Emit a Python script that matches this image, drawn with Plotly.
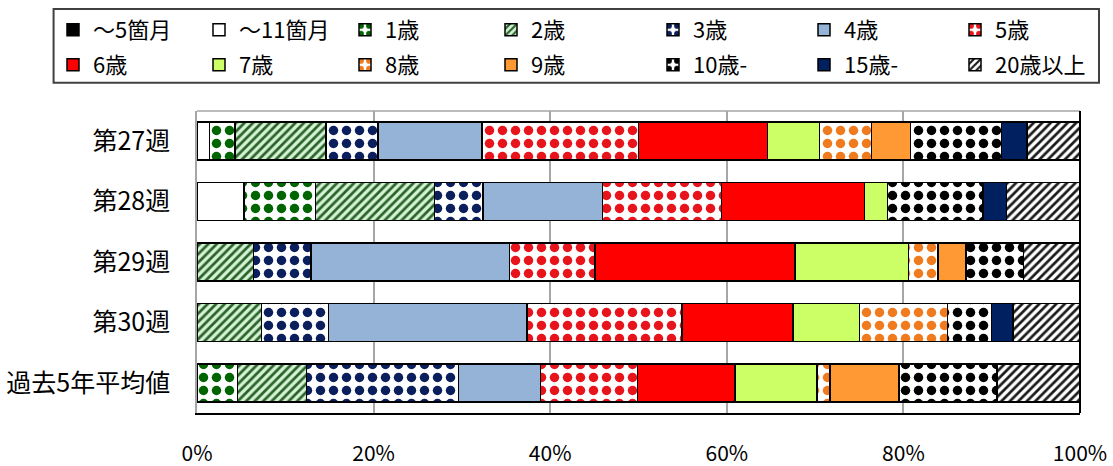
import plotly.graph_objects as go

categories = ["第27週", "第28週", "第29週", "第30週", "過去5年平均値"]
age_groups = ["～5箇月", "～11箇月", "1歳", "2歳", "3歳", "4歳", "5歳",
              "6歳", "7歳", "8歳", "9歳", "10歳-", "15歳-", "20歳以上"]

m5 = [0, 0, 0, 0, 0]
m11 = [1.4, 5.3, 0, 0, 0]
a1 = [2.9, 8.1, 0, 0, 4.6]
a2 = [10.3, 13.5, 6.4, 7.3, 7.8]
a3 = [5.9, 5.5, 6.5, 7.6, 17.2]
a4 = [11.8, 13.5, 22.5, 22.5, 9.3]
a5 = [17.7, 13.5, 9.7, 17.5, 11.0]
a6 = [14.6, 16.2, 22.6, 12.6, 11.0]
a7 = [5.9, 2.6, 12.9, 7.5, 9.3]
a8 = [5.9, 0, 3.3, 10.0, 1.5]
a9 = [4.4, 0, 3.2, 0, 7.8]
a10 = [10.3, 10.8, 6.5, 5.0, 11.1]
a15 = [2.9, 2.7, 0, 2.4, 0]
a20 = [6.0, 8.3, 6.4, 7.6, 9.4]

series = [m5, m11, a1, a2, a3, a4, a5, a6, a7, a8, a9, a10, a15, a20]

# style: (bg colour, pattern shape, fg colour)
styles = [
    ("#000000", "", None),
    ("#ffffff", "", None),
    ("#ffffff", ".", "#006400"),
    ("#d4f2d4", "/", "#2a612a"),
    ("#ffffff", ".", "#0a1f5c"),
    ("#95b3d7", "", None),
    ("#ffffff", ".", "#e8141c"),
    ("#ff0000", "", None),
    ("#ccff66", "", None),
    ("#ffffff", ".", "#f07a1e"),
    ("#ff9933", "", None),
    ("#ffffff", ".", "#000000"),
    ("#002060", "", None),
    ("#ffffff", "/", "#1a1a1a"),
]

# which legend block each entry belongs to (2 rows x left/right blocks)
legend_ids = ["legend", "legend", "legend", "legend", "legend2", "legend2", "legend2",
              "legend3", "legend3", "legend3", "legend3", "legend4", "legend4", "legend4"]

FONT = "Noto Sans CJK JP"
W, H = 1113, 466
ML, MR, MT, MB = 196.5, 33, 110.7, 53
PW = W - ML - MR
PH = H - MT - MB


def px2paper_x(px):
    return (px - ML) / PW


def px2paper_y(py):
    return (H - MB - py) / PH


fig = go.Figure()
for name, vals, st, lg in zip(age_groups, series, styles, legend_ids):
    bg, shape, fg = st
    marker = dict(color=bg, line=dict(color="#000000", width=1.5))
    if shape:
        size = 13 if shape == "." else 6
        solidity = 0.42 if shape == "." else 0.45
        marker["pattern"] = dict(shape=shape, fgcolor=fg, bgcolor=bg,
                                 size=size, solidity=solidity,
                                 fillmode="replace", fgopacity=1)
    fig.add_trace(go.Bar(
        y=categories, x=vals, name=name, orientation="h", marker=marker,
        legend=lg,
    ))


def legend_block(xpx, ypx, entryw):
    return dict(
        orientation="h", xref="container", yref="container",
        xanchor="left", yanchor="top", entrywidth=entryw, entrywidthmode="pixels",
        font=dict(family=FONT, size=22, color="#000000"),
        bgcolor="rgba(0,0,0,0)", borderwidth=0, traceorder="normal",
        x=xpx / W, y=1 - ypx / H,
    )


fig.update_layout(
    width=W, height=H,
    margin=dict(l=ML, r=MR, t=MT, b=MB, pad=0, autoexpand=False),
    barmode="stack", bargap=0.37,
    paper_bgcolor="#ffffff", plot_bgcolor="#ffffff",
    font=dict(family=FONT, color="#000000"),
    legend=legend_block(53, 9, 101),
    legend2=legend_block(653, 9, 106),
    legend3=legend_block(53, 44, 101),
    legend4=legend_block(653, 44, 106),
    xaxis=dict(
        range=[0, 100], dtick=20, tick0=0, ticksuffix="%",
        showgrid=True, gridcolor="#a6a6a6", gridwidth=1.5,
        zeroline=False, showline=True, linecolor="#000000", linewidth=2,
        ticks="", ticklabelstandoff=21,
        tickfont=dict(family=FONT, size=21, color="#000000"),
        fixedrange=True,
    ),
    yaxis=dict(
        autorange="reversed", showgrid=False, zeroline=False,
        showline=True, linecolor="#a6a6a6", linewidth=1.5,
        ticks="", ticklabelstandoff=20,
        tickfont=dict(family=FONT, size=25, color="#000000"),
        fixedrange=True,
    ),
    shapes=[
        # top frame edge (grey)
        dict(type="line", xref="paper", yref="paper", x0=0, x1=1, y0=1, y1=1,
             line=dict(color="#a6a6a6", width=1.5)),
        # right frame edge (black)
        dict(type="line", xref="paper", yref="paper", x0=1, x1=1, y0=0, y1=1,
             line=dict(color="#000000", width=2)),
        # legend box
        dict(type="rect", xref="paper", yref="paper",
             x0=px2paper_x(53), x1=px2paper_x(1099),
             y0=px2paper_y(82.5), y1=px2paper_y(8.5),
             line=dict(color="#404040", width=2), fillcolor="rgba(0,0,0,0)"),
    ],
)

fig.write_html("out.html")
